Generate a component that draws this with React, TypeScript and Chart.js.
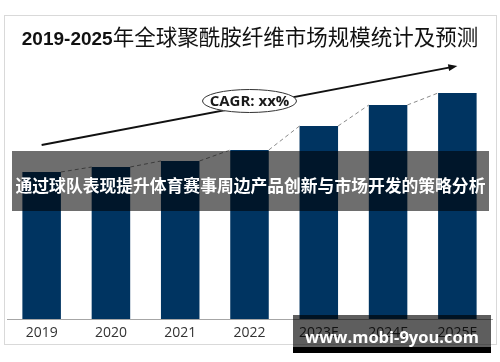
import React, { useEffect, useRef } from "react";
import { Chart, registerables } from "chart.js";

Chart.register(...registerables);

const categories = ["2019", "2020", "2021", "2022", "2023E", "2024E", "2025E"];
const marketSize = [147, 152, 158, 169, 193, 214, 226];
const yMax = 259;
const arrowStartValue = 174;
const arrowEndValue = 253;
const cagrValue = 218;
const cagrCategoryIndex = 3;
const titleYears = "2019-2025";
const titleText = "年全球聚酰胺纤维市场规模统计及预测";
const cagrLabel = "CAGR: xx%";
const bannerText = "通过球队表现提升体育赛事周边产品创新与市场开发的策略分析";
const watermarkText = "www.mobi-9you.com";

const decorPlugin = {
  id: "decor",
  afterDatasetsDraw(chart: any) {
    const ctx = chart.ctx;
    const bars = chart.getDatasetMeta(0).data;
    const xs = chart.scales.x;
    const ys = chart.scales.y;
    ctx.save();
    // dashed connectors
    ctx.strokeStyle = "#8a8a8a";
    ctx.lineWidth = 1;
    ctx.setLineDash([4, 3]);
    for (let i = 0; i < bars.length - 1; i++) {
      const a = bars[i];
      const b = bars[i + 1];
      ctx.beginPath();
      ctx.moveTo(a.x + a.width / 2, a.y);
      ctx.lineTo(b.x - b.width / 2, b.y);
      ctx.stroke();
    }
    ctx.setLineDash([]);
    // arrow
    const x0 = xs.getPixelForValue(0);
    const y0 = ys.getPixelForValue(arrowStartValue);
    const x1 = xs.getPixelForValue(categories.length - 1);
    const y1 = ys.getPixelForValue(arrowEndValue);
    const ang = Math.atan2(y1 - y0, x1 - x0);
    ctx.strokeStyle = "#111";
    ctx.fillStyle = "#111";
    ctx.lineWidth = 2;
    ctx.beginPath();
    ctx.moveTo(x0, y0);
    ctx.lineTo(x1 - 6 * Math.cos(ang), y1 - 6 * Math.sin(ang));
    ctx.stroke();
    ctx.beginPath();
    ctx.moveTo(x1, y1);
    ctx.lineTo(x1 - 9 * Math.cos(ang) + 3.5 * Math.sin(ang), y1 - 9 * Math.sin(ang) - 3.5 * Math.cos(ang));
    ctx.lineTo(x1 - 9 * Math.cos(ang) - 3.5 * Math.sin(ang), y1 - 9 * Math.sin(ang) + 3.5 * Math.cos(ang));
    ctx.closePath();
    ctx.fill();
    // CAGR ellipse
    const cx = xs.getPixelForValue(cagrCategoryIndex);
    const cy = ys.getPixelForValue(cagrValue);
    ctx.beginPath();
    ctx.ellipse(cx, cy, 47, 11.5, 0, 0, Math.PI * 2);
    ctx.fillStyle = "#ffffff";
    ctx.fill();
    ctx.lineWidth = 1;
    ctx.strokeStyle = "#333";
    ctx.stroke();
    ctx.fillStyle = "#1a1a1a";
    ctx.font = "bold 15px 'Open Sans'";
    ctx.textAlign = "center";
    ctx.textBaseline = "middle";
    ctx.fillText(cagrLabel, cx, cy + 1);
    ctx.restore();
  },
};

export default function App() {
  const ref = useRef<HTMLCanvasElement>(null);
  useEffect(() => {
    const chart = new Chart(ref.current!, {
      type: "bar",
      data: {
        labels: categories,
        datasets: [
          {
            data: marketSize,
            backgroundColor: "#003461",
            barPercentage: 0.556,
            categoryPercentage: 1,
          },
        ],
      },
      options: {
        animation: false,
        responsive: false,
        devicePixelRatio: 1,
        layout: { padding: { top: 60, left: 7, right: 8, bottom: 18 } },
        plugins: { legend: { display: false }, tooltip: { enabled: false } },
        scales: {
          x: {
            grid: { display: false, drawTicks: false },
            border: { display: true, color: "#a6a6a6", width: 1 },
            ticks: { color: "#333", font: { family: "'Open Sans'", size: 14 }, padding: 6 },
            afterFit: (axis: any) => {
              axis.height = 25;
            },
          },
          y: { display: false, min: 0, max: yMax },
        },
      },
      plugins: [decorPlugin],
    });
    return () => chart.destroy();
  }, []);

  return (
    <div style={{ position: "fixed", left: 0, top: 0, width: 500, height: 362, background: "#fff", overflow: "hidden" }}>
      <div style={{ position: "absolute", left: 4, top: 15, width: 491, height: 328, border: "1px solid #d9d9d9" }} />
      <canvas ref={ref} width={500} height={362} style={{ position: "absolute", left: 0, top: 0 }} />
      <div
        style={{
          position: "absolute",
          left: 0,
          top: 23,
          width: 500,
          textAlign: "center",
          whiteSpace: "nowrap",
          lineHeight: "26px",
          color: "#111",
        }}
      >
        <span style={{ fontFamily: "'Liberation Sans'", fontWeight: 700, fontSize: 19 }}>{titleYears}</span>
        <span style={{ fontFamily: "'Noto Sans CJK SC'", fontWeight: 400, fontSize: 21.5 }}>{titleText}</span>
      </div>
      <div
        style={{
          position: "absolute",
          left: 12,
          top: 151,
          width: 477,
          height: 60,
          background: "rgba(0,0,0,0.57)",
          color: "#fff",
          fontFamily: "'Noto Sans CJK SC'",
          fontWeight: 700,
          fontSize: 16.8,
          lineHeight: "68px",
          textAlign: "center",
          whiteSpace: "nowrap",
        }}
      >
        {bannerText}
      </div>
      <div
        style={{
          position: "absolute",
          left: 293,
          top: 315,
          width: 198,
          height: 32,
          background: "rgba(0,0,0,0.63)",
          borderBottom: "6px solid #000",
          color: "#fff",
          fontFamily: "'Open Sans'",
          fontWeight: 700,
          fontSize: 16.5,
          lineHeight: "44px",
          textAlign: "center",
          whiteSpace: "nowrap",
        }}
      >
        {watermarkText}
      </div>
    </div>
  );
}
